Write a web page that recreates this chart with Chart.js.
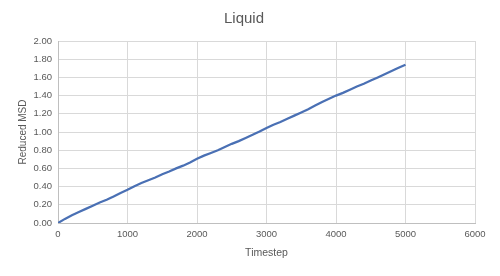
<!DOCTYPE html>
<html>
<head>
<meta charset="utf-8">
<script src="https://cdn.jsdelivr.net/npm/chart.js@4.4.1/dist/chart.umd.min.js"></script>
<style>
  html, body { margin: 0; padding: 0; background: #ffffff; }
  #liquid { display: block; }
</style>
</head>
<body>
<canvas id="liquid" width="500" height="276"></canvas>
<script>
var timesteps = [0, 100, 200, 300, 400, 500, 600, 700, 800, 900,
  1000, 1100, 1200, 1300, 1400, 1500, 1600, 1700, 1800, 1900,
  2000, 2100, 2200, 2300, 2400, 2500, 2600, 2700, 2800, 2900,
  3000, 3100, 3200, 3300, 3400, 3500, 3600, 3700, 3800, 3900,
  4000, 4100, 4200, 4300, 4400, 4500, 4600, 4700, 4800, 4900, 5000];
var msd = [0, 0.045, 0.085, 0.12, 0.155, 0.19, 0.225, 0.255, 0.29, 0.33,
  0.365, 0.405, 0.44, 0.47, 0.50, 0.535, 0.565, 0.60, 0.63, 0.665,
  0.705, 0.74, 0.77, 0.80, 0.835, 0.87, 0.90, 0.935, 0.97, 1.005,
  1.045, 1.08, 1.11, 1.145, 1.18, 1.215, 1.25, 1.29, 1.33, 1.365,
  1.40, 1.43, 1.465, 1.50, 1.53, 1.565, 1.60, 1.635, 1.67, 1.705, 1.74];

var points = [];
for (var i = 0; i < timesteps.length; i++) {
  points.push({ x: timesteps[i], y: msd[i] });
}

var textColor = "#595959";
var gridColor = "#d9d9d9";

var ctx = document.getElementById("liquid").getContext("2d");
var msdChart = new Chart(ctx, {
  type: "scatter",
  data: {
    datasets: [
      {
        label: "Liquid",
        data: points,
        showLine: true,
        borderColor: "#4a70b4",
        backgroundColor: "#4a70b4",
        borderWidth: 2.25,
        pointRadius: 0,
        tension: 0
      }
    ]
  },
  options: {
    responsive: false,
    animation: false,
    layout: { padding: { top: 4, right: 25, bottom: 13, left: 13 } },
    plugins: {
      legend: { display: false },
      tooltip: { enabled: false },
      title: {
        display: true,
        text: "Liquid",
        color: textColor,
        font: { family: "Liberation Sans", size: 15, weight: "normal" },
        padding: { top: 6, bottom: 13 }
      }
    },
    scales: {
      x: {
        type: "linear",
        min: 0,
        max: 6000,
        ticks: {
          stepSize: 1000,
          color: textColor,
          font: { family: "Liberation Sans", size: 9.5 },
          padding: 6,
          callback: function(v) { return String(v); }
        },
        grid: { color: gridColor, drawTicks: false },
        border: { color: "#bfbfbf" },
        title: {
          display: true,
          text: "Timestep",
          color: textColor,
          font: { family: "Liberation Sans", size: 10.5 },
          padding: { top: 4 }
        },
        afterFit: function(scale) { scale.height = 40; }
      },
      y: {
        min: 0,
        max: 2,
        ticks: {
          stepSize: 0.2,
          color: textColor,
          font: { family: "Liberation Sans", size: 9.5 },
          padding: 6,
          callback: function(v) { return v.toFixed(2); }
        },
        grid: { color: gridColor, drawTicks: false },
        border: { color: "#bfbfbf" },
        title: {
          display: true,
          text: "Reduced MSD",
          color: textColor,
          font: { family: "Liberation Sans", size: 10 },
          padding: { bottom: 4 }
        },
        afterFit: function(scale) { scale.width = 45; }
      }
    }
  }
});
</script>
</body>
</html>
